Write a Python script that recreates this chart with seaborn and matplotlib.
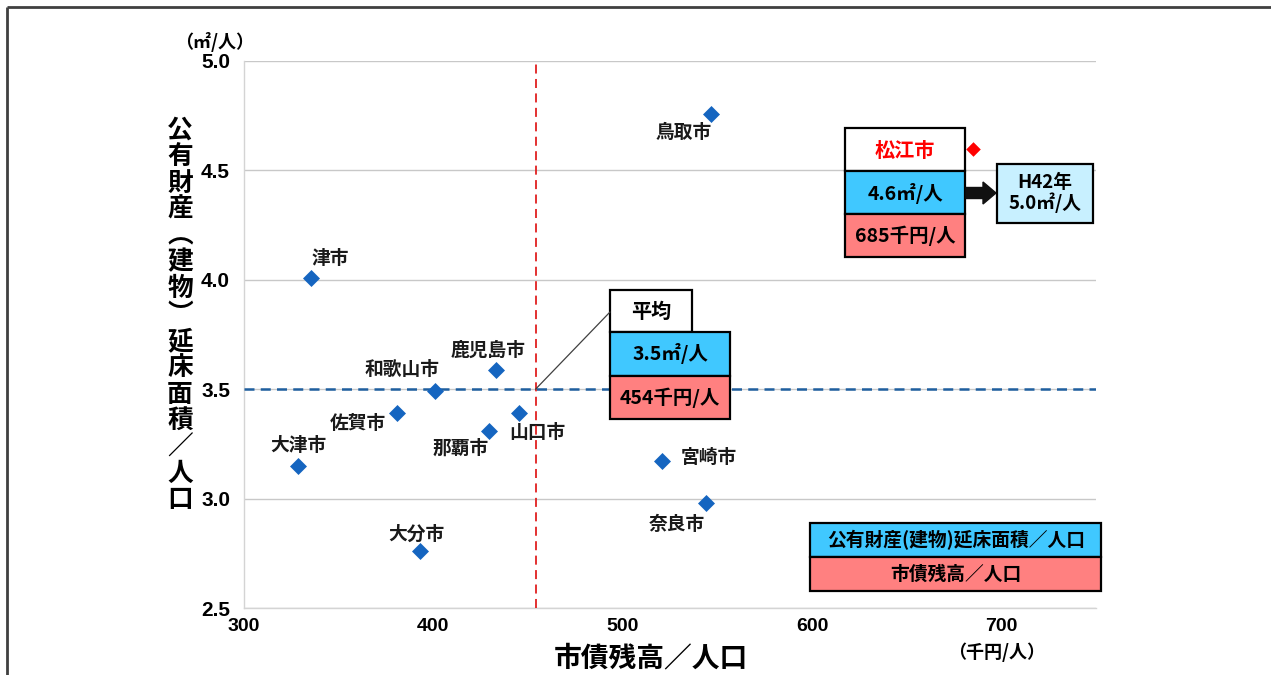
import matplotlib
matplotlib.use("Agg")
import matplotlib.pyplot as plt
from matplotlib.patches import Rectangle, FancyArrow, ConnectionPatch
import seaborn as sns
import pandas as pd

# City data: municipal debt per person (thousand yen) and public building floor area per person (m2)
cities = ["鳥取市", "津市", "鹿児島市", "和歌山市", "佐賀市", "山口市",
          "那覇市", "大津市", "宮崎市", "奈良市", "大分市"]
debt = [546.6, 335.4, 433.3, 401.0, 380.8, 445.5, 429.3, 328.7, 521.0, 543.9, 393.1]
area = [4.76, 4.01, 3.59, 3.49, 3.39, 3.39, 3.31, 3.15, 3.17, 2.98, 2.76]

# Label offsets in pixels (dx, dy) from each point
label_dx = [-27, 19, -8, -33, -39, 18, -28, 0, 46, -29, -4]
label_dy = [-19, 19, 19, 22, -10, -19, -17, 20, 4, -22, 17]

# Matsue and the group average
matsue_name = "松江市"
matsue_debt = 685
matsue_area = 4.6
matsue_target_year = "H42年"
matsue_target_area = 5.0
avg_debt = 454
avg_area = 3.5

x_ticks = [300, 400, 500, 600, 700]
y_ticks = [2.5, 3.0, 3.5, 4.0, 4.5, 5.0]

sns.set_theme(style="white")
plt.rcParams["font.family"] = ["Noto Sans CJK JP", "DejaVu Sans"]

W, H = 1271, 675
fig = plt.figure(figsize=(W / 100, H / 100), dpi=100)
fig.patch.set_facecolor("white")
ax = fig.add_axes([244 / W, 1 - 608 / H, (1096 - 244) / W, (608 - 61) / H])

df = pd.DataFrame({"city": cities, "debt": debt, "area": area})
sns.scatterplot(data=df, x="debt", y="area", marker="D", s=75, color="#1565c0",
                edgecolor="#1565c0", linewidth=0, ax=ax, zorder=5)
sns.scatterplot(x=[matsue_debt], y=[matsue_area], marker="D", s=55, color="#ff0000",
                edgecolor="#ff0000", linewidth=0, ax=ax, zorder=5)

for name, xv, yv, dx, dy in zip(cities, debt, area, label_dx, label_dy):
    ax.annotate(name, (xv, yv), xytext=(dx, dy), textcoords="offset pixels",
                ha="center", va="center", fontsize=13.5, fontweight="bold", color="#1a1a1a")

# Average reference lines
ax.axvline(avg_debt, color="#e02020", lw=1.3, ls=(0, (5, 3)), zorder=3)
ax.axhline(avg_area, color="#1f5f9f", lw=1.8, ls=(0, (4, 2.5)), zorder=3)

ax.set_xlim(300, 750)
ax.set_ylim(2.5, 5.0)
ax.set_xticks(x_ticks)
ax.set_yticks(y_ticks)
ax.set_xticklabels([str(v) for v in x_ticks], fontsize=14, fontweight="bold",
                   family=["Liberation Sans", "DejaVu Sans"])
ax.set_yticklabels([f"{v:.1f}" for v in y_ticks], fontsize=15, fontweight="bold",
                   family=["Liberation Sans", "DejaVu Sans"])
ax.set_xlabel("")
ax.set_ylabel("")
ax.grid(axis="y", color="#c8c8c8", lw=1)
ax.grid(axis="x", visible=False)
for side in ["top", "right"]:
    ax.spines[side].set_visible(False)
for side in ["left", "bottom"]:
    ax.spines[side].set_color("#d4d4d4")
    ax.spines[side].set_linewidth(1)
ax.tick_params(axis="both", length=4, color="#c8c8c8", pad=3, labelcolor="black")
ax.tick_params(axis="y", pad=6)

# Overlay in pixel coordinates for annotations
ov = fig.add_axes([0, 0, 1, 1], zorder=10)
ov.set_xlim(0, W)
ov.set_ylim(H, 0)
ov.axis("off")
ov.patch.set_alpha(0)

# Page frame
ov.plot([7, W], [7, 7], color="#404040", lw=2, solid_capstyle="butt")
ov.plot([7, 7], [7, H], color="#404040", lw=2, solid_capstyle="butt")

# Axis titles and units
ylabel = "公有財産︵建物︶延床面積／人口"
ov.text(180, 315, "\n".join(ylabel), ha="center", va="center", fontsize=18.5,
        fontweight="bold", linespacing=0.97, color="black")
ov.text(651, 658, "市債残高／人口", ha="center", va="center", fontsize=20,
        fontweight="bold", color="black")
ov.text(215, 42, "（㎡/人）", ha="center", va="center", fontsize=13,
        fontweight="bold", color="black")
ov.text(997, 652, "（千円/人）", ha="center", va="center", fontsize=13,
        fontweight="bold", color="black")

BLUE = "#40c8ff"
PINK = "#ff8080"
LIGHT = "#c8f0ff"


def box(x0, y0, x1, y1, fc):
    ov.add_patch(Rectangle((x0, y0), x1 - x0, y1 - y0, facecolor=fc,
                           edgecolor="black", lw=1.6, zorder=11))


# Matsue callout
box(845, 128, 965, 171, "white")
box(845, 171, 965, 214, BLUE)
box(845, 214, 965, 257, PINK)
ov.text(905, 150, matsue_name, ha="center", va="center", fontsize=14.5,
        fontweight="bold", color="#ff0000", zorder=12)
ov.text(905, 193, f"{matsue_area:.1f}㎡/人", ha="center", va="center", fontsize=14,
        fontweight="bold", color="black", zorder=12)
ov.text(905, 236, f"{matsue_debt}千円/人", ha="center", va="center", fontsize=14,
        fontweight="bold", color="black", zorder=12)
ov.add_patch(FancyArrow(966, 193, 30, 0, width=11, head_width=22, head_length=13,
                        length_includes_head=True, facecolor="#111111",
                        edgecolor="#111111", zorder=11))
box(997, 164, 1093, 223, LIGHT)
ov.text(1045, 193, f"{matsue_target_year}\n{matsue_target_area:.1f}㎡/人", ha="center",
        va="center", fontsize=13.5, fontweight="bold", color="black",
        linespacing=1.0, zorder=12)

# Average callout
box(610, 290, 692, 332, "white")
box(610, 332, 730, 376, BLUE)
box(610, 376, 730, 419, PINK)
ov.text(651, 311, "平均", ha="center", va="center", fontsize=14.5,
        fontweight="bold", color="black", zorder=12)
ov.text(670, 354, f"{avg_area:.1f}㎡/人", ha="center", va="center", fontsize=14,
        fontweight="bold", color="black", zorder=12)
ov.text(670, 398, f"{avg_debt}千円/人", ha="center", va="center", fontsize=14,
        fontweight="bold", color="black", zorder=12)
fig.add_artist(ConnectionPatch(xyA=(avg_debt, avg_area), coordsA=ax.transData,
                               xyB=(610, 312), coordsB=ov.transData,
                               color="#404040", lw=0.9, zorder=12))

# Colour key
box(810, 523, 1101, 557, BLUE)
box(810, 557, 1101, 591, PINK)
ov.text(956, 540, "公有財産(建物)延床面積／人口", ha="center", va="center",
        fontsize=13.5, fontweight="bold", color="black", zorder=12)
ov.text(956, 574, "市債残高／人口", ha="center", va="center",
        fontsize=13.5, fontweight="bold", color="black", zorder=12)

fig.savefig("out.png", dpi=100, facecolor="white")
